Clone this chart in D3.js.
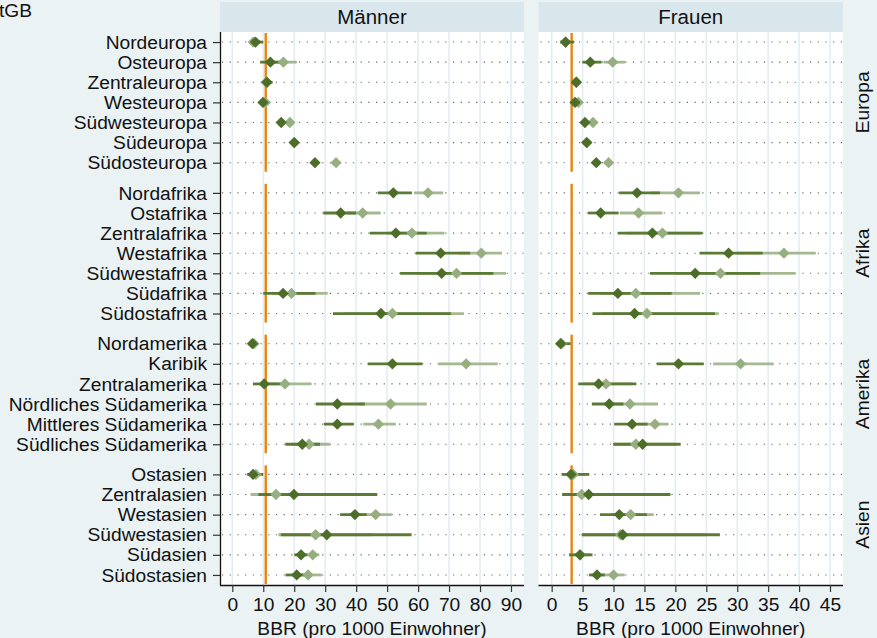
<!DOCTYPE html>
<html><head><meta charset="utf-8">
<script src="https://cdn.jsdelivr.net/npm/d3@7"></script>
<style>
html,body{margin:0;padding:0;background:#eaf2f4;}
svg{display:block;font-family:"Liberation Sans",Arial,Helvetica,sans-serif;}
</style></head>
<body>
<script>
// ---- data ----
const groups = ["Europa","Afrika","Amerika","Asien"];
const regions = ["Nordeuropa","Osteuropa","Zentraleuropa","Westeuropa","Südwesteuropa","Südeuropa","Südosteuropa",
 "Nordafrika","Ostafrika","Zentralafrika","Westafrika","Südwestafrika","Südafrika","Südostafrika",
 "Nordamerika","Karibik","Zentralamerika","Nördliches Südamerika","Mittleres Südamerika","Südliches Südamerika",
 "Ostasien","Zentralasien","Westasien","Südwestasien","Südasien","Südostasien"];
const regionGroup = [0,0,0,0,0,0,0, 1,1,1,1,1,1,1, 2,2,2,2,2,2, 3,3,3,3,3,3];
const panels = ["Männer","Frauen"];
const xTicksMen = [0,10,20,30,40,50,60,70,80,90];
const xTicksWomen = [0,5,10,15,20,25,30,35,40,45];
const refLine = [10.8, 3.23];
const xTitle = "BBR (pro 1000 Einwohner)";
const legendText = "tGB";

// Männer, dunkle Serie: estimate, lower, upper
const menDarkEst = [7.5,12.3,11.2,9.9,15.8,20.0,26.7, 52.0,35.0,52.8,67.3,67.6,16.4,48.0, 6.5,51.7,10.3,33.9,33.9,22.6, 6.7,19.9,39.6,30.5,22.2,20.8];
const menDarkLo  = [5.8,9.0,9.8,9.0,14.5,19.0,26.0, 47.0,29.4,44.4,59.2,54.2,10.0,32.5, 5.5,43.7,6.7,27.0,29.6,17.1, 4.8,8.4,34.8,15.7,20.0,17.2];
const menDarkHi  = [10.0,15.5,13.0,11.5,17.0,21.0,27.5, 58.0,40.0,62.8,76.8,84.3,26.9,70.6, 8.0,61.4,16.5,42.8,39.2,28.3, 10.0,46.8,43.4,57.9,24.2,23.4];
// Männer, helle Serie
const menLightEst = [6.8,16.5,11.0,10.7,18.6,20.0,33.5, 63.2,42.1,58.0,80.4,72.4,19.1,51.7, 7.0,75.5,17.0,51.1,47.2,24.8, 7.6,14.1,46.3,26.9,26.0,24.5];
const menLightLo  = [5.5,12.5,9.5,9.5,17.5,19.2,33.0, 58.7,37.0,50.0,73.0,60.0,13.0,36.0, 6.0,66.5,9.0,41.0,42.3,19.0, 6.0,5.9,40.0,14.9,23.5,21.0];
const menLightHi  = [8.5,20.8,12.5,11.5,19.8,20.8,34.0, 68.1,47.9,68.5,87.1,88.4,30.8,74.8, 8.0,85.7,25.6,62.8,52.8,31.5, 9.0,35.0,51.5,45.0,28.1,28.9];
// Frauen, dunkle Serie
const womenDarkEst = [2.26,6.24,3.98,3.77,5.38,5.66,7.21, 13.8,7.92,16.27,28.6,23.2,10.7,13.4, 1.45,20.5,7.59,9.31,13.0,14.7, 3.12,5.98,10.93,11.5,4.58,7.32];
const womenDarkLo  = [1.35,4.95,3.5,3.3,4.9,5.2,6.8, 10.9,5.87,10.7,23.9,15.9,5.9,6.6, 0.7,17.0,4.3,6.5,10.1,9.96, 1.6,1.7,7.8,4.85,2.8,6.03];
const womenDarkHi  = [3.66,8.08,4.5,4.3,5.9,6.1,7.7, 17.5,10.8,24.4,34.1,33.7,19.4,26.4, 3.07,24.6,13.7,11.6,15.5,20.85, 6.08,19.2,15.4,27.2,6.6,8.6];
// Frauen, helle Serie
const womenLightEst = [2.2,9.86,4.0,4.3,6.68,5.7,9.2, 20.5,14.06,17.9,37.55,27.3,13.6,15.4, 1.6,30.55,8.78,12.66,16.7,13.6, 3.5,4.85,12.77,11.15,4.6,10.0];
const womenLightLo  = [1.5,8.4,3.6,3.8,6.2,5.3,8.8, 16.0,11.0,12.0,30.0,20.0,8.0,8.0, 1.0,26.1,5.0,8.5,14.0,10.0, 2.0,1.7,9.5,5.0,3.0,8.2];
const womenLightHi  = [3.0,11.85,4.4,4.8,7.2,6.1,9.6, 24.0,17.9,24.0,42.7,39.4,24.0,27.0, 2.5,35.9,13.0,17.2,18.9,20.0, 5.5,15.0,16.5,25.0,6.3,11.8];

// ---- layout ----
const W = 877, H = 638;
const svg = d3.select("body").append("svg").attr("width", W).attr("height", H);
svg.append("rect").attr("width", W).attr("height", H).attr("fill", "#eaf2f4");

const plotTop = 32, plotBottom = 585;
// row position index: groups separated by half-row gaps
const posIndex = [];
{ let p = 0, prevG = regionGroup[0];
  regionGroup.forEach((g, i) => { if (g !== prevG) { p += 0.5; prevG = g; } posIndex.push(p); p += 1; }); }
const lastIdx = posIndex[posIndex.length - 1];
const y = d3.scaleLinear().domain([-0.5, lastIdx + 0.5]).range([plotTop, plotBottom]);

const panelX = [[220, 524], [538.5, 843]];
const domains = [[-3.97, 94.2], [-2.13, 47.1]];
const ticks = [xTicksMen, xTicksWomen];
const series = [
  [{est: menLightEst, lo: menLightLo, hi: menLightHi}, {est: menDarkEst, lo: menDarkLo, hi: menDarkHi}],
  [{est: womenLightEst, lo: womenLightLo, hi: womenLightHi}, {est: womenDarkEst, lo: womenDarkLo, hi: womenDarkHi}]
];
const ciColors = ["#a4b991", "#5b7b34"];
const ptColors = ["#97ae80", "#4d6e29"];
const fontSize = 19.2;

// group extents
const groupExt = groups.map((g, gi) => {
  const idx = posIndex.filter((p, i) => regionGroup[i] === gi);
  return [d3.min(idx) - 0.5, d3.max(idx) + 0.5];
});

panels.forEach((title, pi) => {
  const [x0, x1] = panelX[pi];
  const x = d3.scaleLinear().domain(domains[pi]).range([x0, x1]);
  const g = svg.append("g");
  // strip
  g.append("rect").attr("x", x0).attr("y", 2).attr("width", x1 - x0).attr("height", plotTop - 2).attr("fill", "#d9e6eb");
  g.append("text").attr("x", (x0 + x1) / 2).attr("y", 24).attr("text-anchor", "middle")
    .attr("font-size", 20.5).attr("fill", "#111").text(title);
  // plot area
  g.append("rect").attr("x", x0).attr("y", plotTop).attr("width", x1 - x0).attr("height", plotBottom - plotTop).attr("fill", "#fff");
  // vertical grid
  g.selectAll(".vg").data(ticks[pi]).join("line")
    .attr("x1", d => x(d)).attr("x2", d => x(d)).attr("y1", plotTop).attr("y2", plotBottom)
    .attr("stroke", "#e3edf1").attr("stroke-width", 1.6);
  // dotted row lines
  g.selectAll(".hg").data(regions).join("line")
    .attr("x1", x0 + 2).attr("x2", x1).attr("y1", (d, i) => y(posIndex[i])).attr("y2", (d, i) => y(posIndex[i]))
    .attr("stroke", "#666").attr("stroke-width", 1.1).attr("stroke-dasharray", "1.2,6.5");
  // reference line per group
  g.selectAll(".ref").data(groupExt).join("line")
    .attr("x1", x(refLine[pi])).attr("x2", x(refLine[pi]))
    .attr("y1", d => y(d[0]) + 1).attr("y2", d => y(d[1]) - 1)
    .attr("stroke", "#e8850f").attr("stroke-width", 2.4);
  // CIs
  series[pi].forEach((s, si) => {
    g.selectAll(null).data(regions).join("line")
      .attr("x1", (d, i) => x(s.lo[i])).attr("x2", (d, i) => x(s.hi[i]))
      .attr("y1", (d, i) => y(posIndex[i])).attr("y2", (d, i) => y(posIndex[i]))
      .attr("stroke", ciColors[si]).attr("stroke-width", 2.8);
  });
  // markers
  const sym = d3.symbol().type(d3.symbolSquare).size(64);
  series[pi].forEach((s, si) => {
    g.selectAll(null).data(regions).join("path")
      .attr("d", sym)
      .attr("transform", (d, i) => `translate(${x(s.est[i])},${y(posIndex[i])}) rotate(45)`)
      .attr("fill", ptColors[si]);
  });
  // bottom axis
  const ax = g.append("g").attr("transform", `translate(0,${plotBottom})`)
    .call(d3.axisBottom(x).tickValues(ticks[pi]).tickSize(7).tickPadding(5));
  ax.select(".domain").attr("d", `M${x0},0.5H${x1}`).attr("stroke", "#111").attr("stroke-width", 1.3);
  ax.selectAll(".tick line").attr("stroke", "#333").attr("stroke-width", 1.2);
  ax.selectAll(".tick text").attr("font-size", fontSize).attr("fill", "#111")
    .attr("font-family", "'Liberation Sans',Arial,sans-serif").attr("dy", "0.71em");
  g.append("text").attr("x", (x0 + x1) / 2).attr("y", 635).attr("text-anchor", "middle")
    .attr("font-size", fontSize).attr("fill", "#111").text(xTitle);

  if (pi === 0) {
    const ay = g.append("g").attr("transform", `translate(${x0},0)`)
      .call(d3.axisLeft(y).tickValues(posIndex).tickFormat((d, i) => regions[i]).tickSize(7).tickPadding(6));
    ay.select(".domain").attr("d", `M0.5,${plotTop}V${plotBottom}`).attr("stroke", "#111").attr("stroke-width", 1.3);
    ay.selectAll(".tick line").attr("stroke", "#333").attr("stroke-width", 1.2);
    ay.selectAll(".tick text").attr("font-size", fontSize).attr("fill", "#111")
      .attr("font-family", "'Liberation Sans',Arial,sans-serif");
  }
});

// right strip labels
groups.forEach((gname, gi) => {
  const cy = (y(groupExt[gi][0]) + y(groupExt[gi][1])) / 2;
  svg.append("text").attr("transform", `translate(869,${cy}) rotate(-90)`)
    .attr("text-anchor", "middle").attr("font-size", fontSize).attr("fill", "#111").text(gname);
});

// truncated legend text
svg.append("text").attr("x", -1).attr("y", 17).attr("font-size", fontSize).attr("fill", "#111").text(legendText);
</script>
</body></html>
